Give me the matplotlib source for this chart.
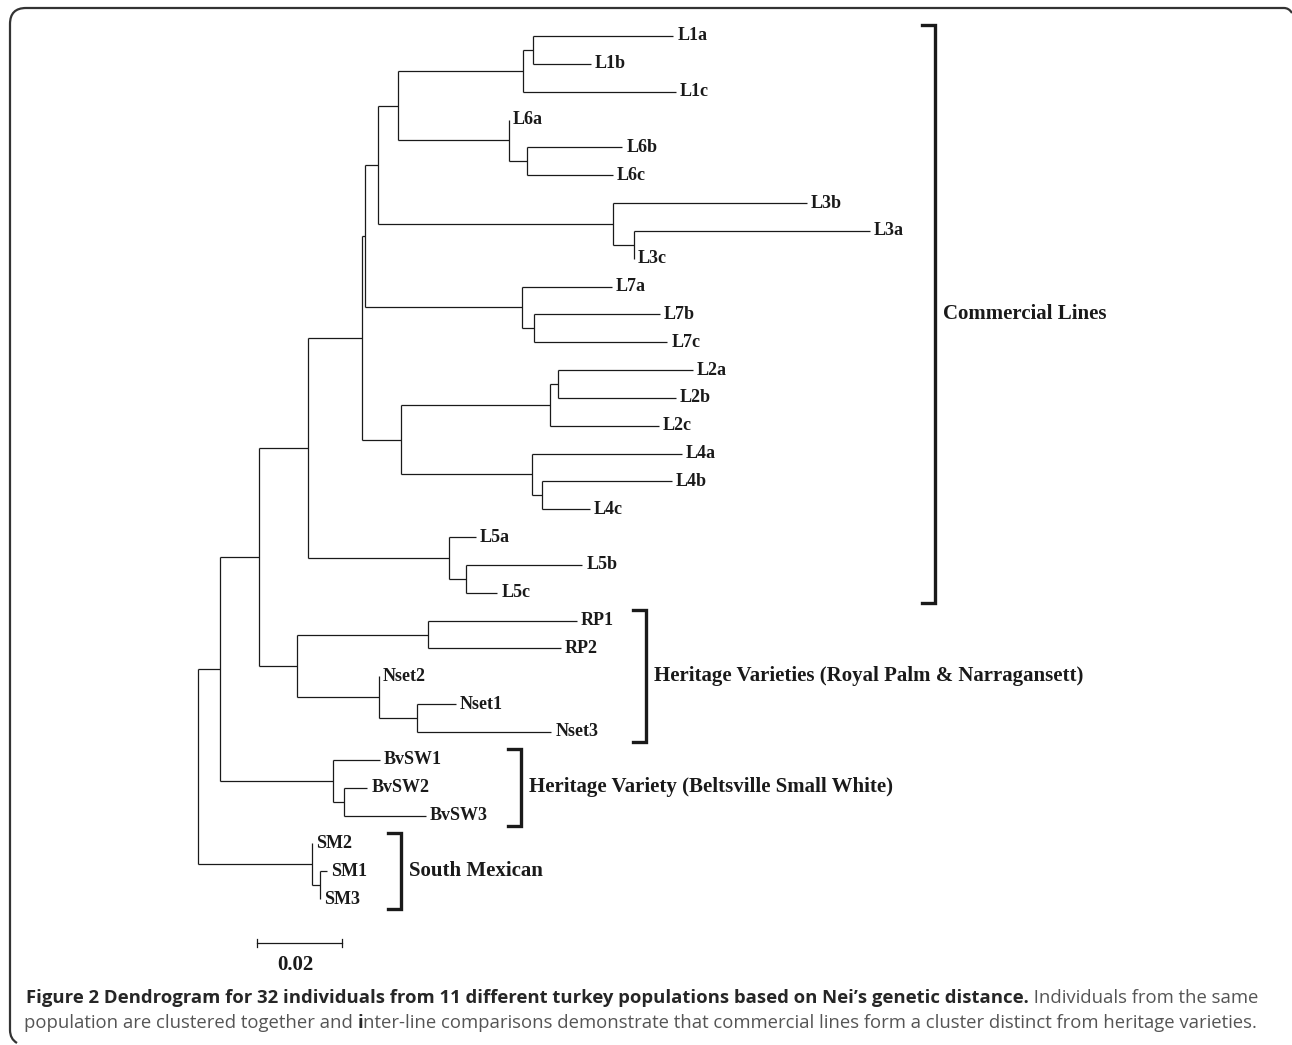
import matplotlib.pyplot as plt
from matplotlib.path import Path
from matplotlib.patches import PathPatch

# leaves, top to bottom, with distance from root (Nei's distance)
leaf_names = ['L1a', 'L1b', 'L1c', 'L6a', 'L6b', 'L6c', 'L3b', 'L3a', 'L3c',
              'L7a', 'L7b', 'L7c', 'L2a', 'L2b', 'L2c', 'L4a', 'L4b', 'L4c',
              'L5a', 'L5b', 'L5c', 'RP1', 'RP2', 'Nset2', 'Nset1', 'Nset3',
              'BvSW1', 'BvSW2', 'BvSW3', 'SM2', 'SM1', 'SM3']
leaf_dist = [0.1118, 0.0925, 0.1125, 0.0732, 0.0998, 0.0976, 0.1433, 0.1581, 0.1026,
             0.0974, 0.1087, 0.1104, 0.1164, 0.1125, 0.1085, 0.1139, 0.1115, 0.0922,
             0.0654, 0.0904, 0.0704, 0.0892, 0.0854, 0.0426, 0.0607, 0.0831,
             0.0428, 0.0398, 0.0536, 0.0268, 0.0304, 0.0287]

# internal nodes (upper child, lower child, distance from root), bottom-up
node_names = ['L1ab', 'L1', 'L6bc', 'L6', 'L1L6', 'L3ac', 'L3', 'A', 'L7bc', 'L7', 'B',
              'L2ab', 'L2', 'L4bc', 'L4', 'C', 'D', 'L5bc', 'L5', 'Comm',
              'RP', 'Nset13', 'Nset', 'Her', 'E', 'BvSW23', 'BvSW', 'F',
              'SM13', 'SM', 'root']
node_upper = ['L1a', 'L1ab', 'L6b', 'L6a', 'L1', 'L3a', 'L3b', 'L1L6', 'L7b', 'L7a', 'A',
              'L2a', 'L2ab', 'L4b', 'L4a', 'L2', 'B', 'L5b', 'L5a', 'D',
              'RP1', 'Nset1', 'Nset2', 'RP', 'Comm', 'BvSW2', 'BvSW1', 'E',
              'SM1', 'SM2', 'F']
node_lower = ['L1b', 'L1c', 'L6c', 'L6bc', 'L6', 'L3c', 'L3ac', 'L3', 'L7c', 'L7bc', 'L7',
              'L2b', 'L2c', 'L4c', 'L4bc', 'L4', 'C', 'L5c', 'L5bc', 'L5',
              'RP2', 'Nset3', 'Nset13', 'Nset', 'Her', 'BvSW3', 'BvSW23', 'BvSW',
              'SM3', 'SM13', 'SM']
node_dist = [0.0788, 0.0765, 0.0774, 0.0732, 0.0471, 0.1026, 0.0976, 0.0424, 0.0791, 0.0762, 0.0393,
             0.0846, 0.0828, 0.0809, 0.0787, 0.0478, 0.0387, 0.0631, 0.0591, 0.0258,
             0.0541, 0.0516, 0.0426, 0.0234, 0.0144, 0.0344, 0.0318, 0.0052,
             0.0287, 0.0268, 0.0]

# bracketed groups: first leaf, last leaf, label
group_first = ['L1a', 'RP1', 'BvSW1', 'SM2']
group_last = ['L5c', 'Nset3', 'BvSW3', 'SM3']
group_labels = ['Commercial Lines', 'Heritage Varieties (Royal Palm & Narragansett)',
                'Heritage Variety (Beltsville Small White)', 'South Mexican']
group_bracket_px = [935, 646, 521, 401]

scale_len = 0.02

W, H = 1292, 1045
ROOT_PX, SCALE_PX = 198, 85.0 / 0.02   # px of the root, px per unit distance
TOP_PX, STEP_PX = 36, 27.84            # y px of first leaf, leaf spacing

fig = plt.figure(figsize=(W / 100, H / 100), dpi=100)
ax = fig.add_axes([0, 0, 1, 1])
ax.set_xlim(-ROOT_PX / SCALE_PX, (W - ROOT_PX) / SCALE_PX)
ax.set_ylim((H - TOP_PX) / STEP_PX, -TOP_PX / STEP_PX)
ax.axis('off')

pos = {}
for i, (n, d) in enumerate(zip(leaf_names, leaf_dist)):
    pos[n] = (d, i)
for n, u, l, d in zip(node_names, node_upper, node_lower, node_dist):
    pos[n] = (d, (pos[u][1] + pos[l][1]) / 2)

lc = '#1a1a1a'
lw = 0.9
for n, u, l, d in zip(node_names, node_upper, node_lower, node_dist):
    ax.plot([d, d], [pos[u][1], pos[l][1]], color=lc, lw=lw, solid_capstyle='butt')
    for c in (u, l):
        ax.plot([d, pos[c][0]], [pos[c][1], pos[c][1]], color=lc, lw=lw,
                solid_capstyle='butt')

serif = 'Liberation Serif'
gap = 4 / SCALE_PX
for n, d in zip(leaf_names, leaf_dist):
    ax.text(d + gap, pos[n][1], n, fontsize=13, fontweight='bold', family=serif,
            color='#1a1a1a', va='center', ha='left')

# group brackets
for f, l, bx, lab in zip(group_first, group_last, group_bracket_px, group_labels):
    y0 = pos[f][1] - 0.38
    y1 = pos[l][1] + 0.36
    x = (bx - ROOT_PX) / SCALE_PX
    xs = x - 13 / SCALE_PX
    ax.plot([xs, x, x, xs], [y0, y0, y1, y1], color='#1a1a1a', lw=2.4,
            solid_joinstyle='miter')
    ax.text(x + 8 / SCALE_PX, (y0 + y1) / 2, lab, fontsize=15, fontweight='bold',
            family=serif, color='#1a1a1a', va='center', ha='left')

# scale bar
sx0 = (257 - ROOT_PX) / SCALE_PX
sy = (943 - TOP_PX) / STEP_PX
tk = 4 / STEP_PX
ax.plot([sx0, sx0 + scale_len], [sy, sy], color=lc, lw=lw)
ax.plot([sx0, sx0], [sy - tk, sy + tk], color=lc, lw=lw)
ax.plot([sx0 + scale_len, sx0 + scale_len], [sy - tk, sy + tk], color=lc, lw=lw)
ax.text(sx0 + scale_len / 2 - 4 / SCALE_PX, sy + 22 / STEP_PX, '0.02', fontsize=15,
        fontweight='bold', family=serif, color='#1a1a1a', ha='center', va='center')

# frame (pixel coordinates)
pix = fig.add_axes([0, 0, 1, 1], facecolor='none')
pix.set_xlim(0, W)
pix.set_ylim(H, 0)
pix.axis('off')
r = 16
verts = [(W, 13), (W - 3, 8), (W - 8, 8), (10 + r, 8), (10, 8), (10, 8 + r),
         (10, 1030), (10, 1039), (17, 1043)]
codes = [Path.MOVETO, Path.CURVE3, Path.CURVE3, Path.LINETO, Path.CURVE3, Path.CURVE3,
         Path.LINETO, Path.CURVE3, Path.CURVE3]
pix.add_patch(PathPatch(Path(verts, codes), fill=False, edgecolor='#333333', lw=1.6))

# caption
cap_font = ['Liberation Sans Narrow', 'Open Sans', 'DejaVu Sans']
bold1 = "Figure 2 Dendrogram for 32 individuals from 11 different turkey populations based on Nei\u2019s genetic distance."
reg1 = " Individuals from the same"
reg2a = "population are clustered together and "
bold2 = "i"
reg2b = "nter-line comparisons demonstrate that commercial lines form a cluster distinct from heritage varieties."

fig.canvas.draw()
renderer = fig.canvas.get_renderer()


def put(x, y, s, weight, color, size):
    t = pix.text(x, y, s, fontsize=size, fontweight=weight, family=cap_font,
                 color=color, ha='left', va='baseline')
    bb = t.get_window_extent(renderer)
    return x + bb.width


def line_width(parts, size):
    total = 0
    for s, w in parts:
        t = pix.text(0, 0, s, fontsize=size, fontweight=w, family=cap_font)
        total += t.get_window_extent(renderer).width
        t.remove()
    return total


cs = 13
p1 = [(bold1, 'bold'), (reg1, 'normal')]
p2 = [(reg2a, 'normal'), (bold2, 'bold'), (reg2b, 'normal')]
cs = min(cs * 1248 / line_width(p1, cs), cs * 1225 / line_width(p2, cs))

x = put(26, 1003, bold1, 'bold', '#262626', cs)
put(x, 1003, reg1, 'normal', '#555555', cs)
x = put(24, 1028, reg2a, 'normal', '#555555', cs)
x = put(x, 1028, bold2, 'bold', '#262626', cs)
put(x, 1028, reg2b, 'normal', '#555555', cs)

fig.savefig('out.png', dpi=100)
